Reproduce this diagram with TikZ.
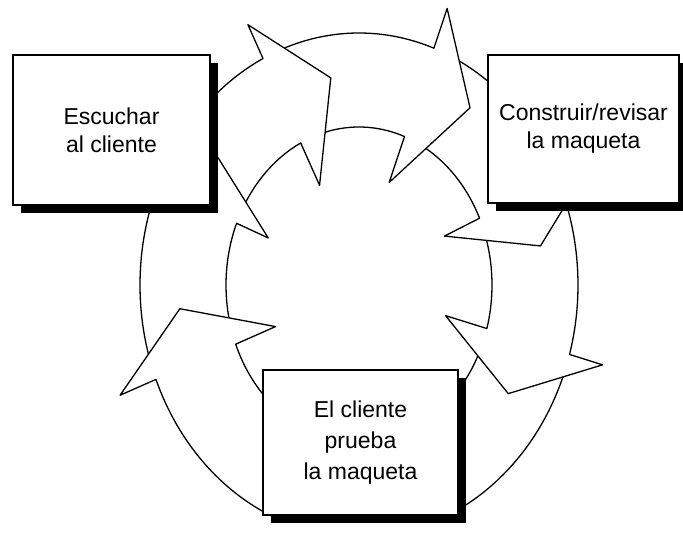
\documentclass[tikz,border=0pt]{standalone}
\usepackage{fontspec}
\setmainfont{Liberation Sans}
\usetikzlibrary{shadows}
\def\cx{359}
\def\cy{285}
\def\ai{133}
\def\bi{158}
\def\dA{86}
\def\dB{94}
% #1 tail angle, #2 head base angle, #3 outer barb s, #4 inner barb s, #5 tip angle, #6 tip s
\newcommand{\ringarrow}[6]{%
  \filldraw[ringpart]
    plot[domain=#1:#2,samples=40] ({\cx+(\ai+\dA)*cos(\x)},{\cy-(\bi+\dB)*sin(\x)})
    -- ({\cx+(\ai+\dA*(#3))*cos(#2)},{\cy-(\bi+\dB*(#3))*sin(#2)})
    -- ({\cx+(\ai+\dA*(#6))*cos(#5)},{\cy-(\bi+\dB*(#6))*sin(#5)})
    -- ({\cx+(\ai+\dA*(#4))*cos(#2)},{\cy-(\bi+\dB*(#4))*sin(#2)})
    -- plot[domain=#2:#1,samples=40] ({\cx+\ai*cos(\x)},{\cy-\bi*sin(\x)})
    -- cycle;}
\tikzset{
  ringpart/.style={draw=black, fill=white, line width=1.3pt, line join=round},
  procbox/.style={draw=black, fill=white, line width=1.3pt, inner sep=0pt, align=center,
    font=\fontsize{23}{28}\selectfont,
    drop shadow={shadow xshift=8pt, shadow yshift=-8pt, fill=black, opacity=1}}
}
\begin{document}
\begin{tikzpicture}[x=1pt,y=-1pt]
\useasboundingbox (0,0) rectangle (683,534);
\fill[white] (0,0) rectangle (683,534);
% ring of arrows (clockwise), drawn so that each head lies over the next tail
\ringarrow{-19}{-62}{1.0}{0}{-78}{0.5}
\ringarrow{22}{-16}{1.4}{-0.5}{-32}{0.5}
\ringarrow{67}{25}{1.45}{-0.45}{10.5}{0.6}
\ringarrow{113}{70}{1.45}{-0.52}{54}{0.65}
\ringarrow{154}{116}{1.4}{-0.5}{99}{0.55}
\ringarrow{199}{157}{1.4}{-0.4}{142}{0.55}
\ringarrow{250}{202}{1.45}{-0.5}{186.5}{0.55}
% boxes
\node[procbox, minimum width=197pt, minimum height=150pt] (listen) at (111.5,130) {Escuchar\\al cliente};
\node[procbox, minimum width=191pt, minimum height=148pt] (build) at (583.5,129) {Construir/revisar\\la maqueta};
\node[procbox, minimum width=195pt, minimum height=145pt, font=\fontsize{23}{31}\selectfont] (test) at (360.5,442.5) {El cliente\\prueba\\la maqueta};
\end{tikzpicture}
\end{document}
